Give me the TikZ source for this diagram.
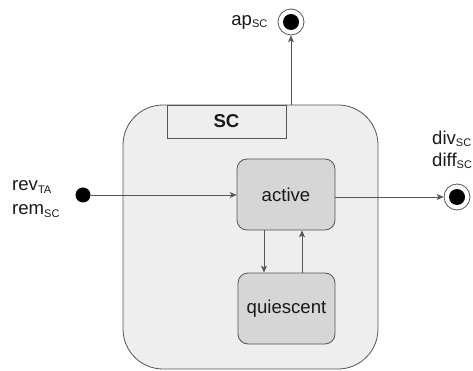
\documentclass[tikz,border=0pt]{standalone}
\usepackage{fontspec}
\setmainfont{Liberation Sans}
\usetikzlibrary{arrows.meta}
\definecolor{linegray}{HTML}{555555}
\definecolor{outerfill}{HTML}{EEEEEE}
\definecolor{statefill}{HTML}{D6D6D6}
\newcommand{\sub}[1]{\textsubscript{\fontsize{11}{12}\selectfont #1}}
\tikzset{
  x=1pt, y=-1pt,
  every node/.style={font=\fontsize{18.6}{21}\selectfont, text=black!90},
  composite/.style={draw=linegray, fill=outerfill, rounded corners=40pt, line width=0.8pt},
  header/.style={draw=linegray, fill=outerfill, line width=0.8pt, font=\fontsize{18.6}{21}\selectfont\bfseries},
  simple/.style={draw=linegray, fill=statefill, rounded corners=10pt, line width=0.8pt},
  initial/.style={circle, fill=black, minimum size=15pt, inner sep=0pt},
  finalouter/.style={circle, draw=linegray, fill=white, minimum size=26pt, inner sep=0pt, line width=0.8pt},
  finaldot/.style={circle, fill=black, minimum size=16pt, inner sep=0pt},
  trans/.style={draw=linegray, line width=0.8pt, -{Stealth[length=7pt,width=6pt,inset=2pt]}},
  lbl/.style={inner sep=0pt, anchor=west},
}
\begin{document}
\begin{tikzpicture}
\useasboundingbox (0,0) rectangle (473,371);

% composite state SC with its name compartment
\node[composite, minimum width=255pt, minimum height=264pt] (sc) at (250.5,237) {};
\node[header, minimum width=119pt, minimum height=33pt] (hdr) at (226.5,121.5) {SC};

% substates
\node[simple, minimum width=98pt, minimum height=71pt] (active) at (286,194.5) {active};
\node[simple, minimum width=97pt, minimum height=71pt] (quiet) at (286.5,308.5) {quiescent};

% pseudostates
\node[initial] (init) at (83,195) {};
\node[finalouter] (finap) at (291,22) {};
\node[finaldot] (finapdot) at (finap) {};
\node[finalouter] (findiv) at (457,197) {};
\node[finaldot] (findivdot) at (findiv) {};

% labels
\node[lbl, anchor=east] (lap) at (268,22) {ap\sub{SC}};
\node[lbl] (lrev) at (12,187) {rev\sub{TA}};
\node[lbl] (lrem) at (12,211) {rem\sub{SC}};
\node[lbl] (ldiv) at (432,139) {div\sub{SC}};
\node[lbl] (ldiff) at (432,161) {diff\sub{SC}};

% transitions
\draw[trans] (init) -- (init -| active.west);
\draw[trans] (active.east |- findiv) -- (findiv);
\draw[trans] (sc.north -| finap) -- (finap);
\coordinate (downx) at (264,0);
\coordinate (upx) at (302,0);
\draw[trans] (active.south -| downx) -- (quiet.north -| downx);
\draw[trans] (quiet.north -| upx) -- (active.south -| upx);
\end{tikzpicture}
\end{document}
